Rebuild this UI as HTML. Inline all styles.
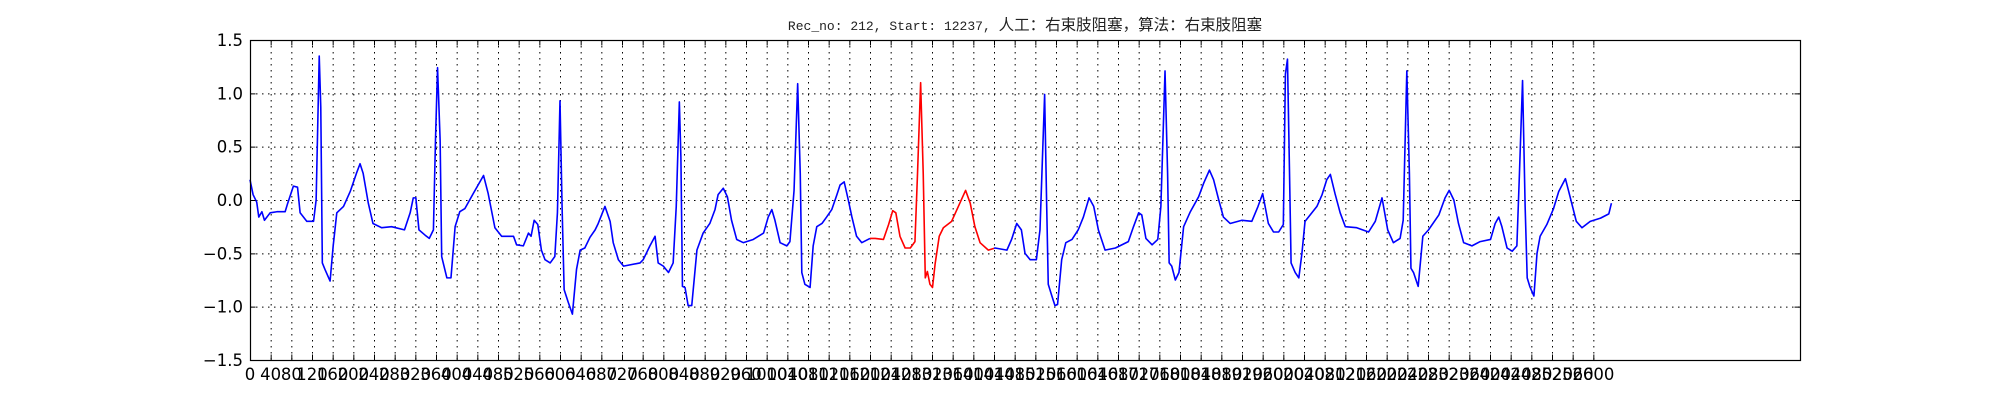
<!DOCTYPE html>
<html><head><meta charset="utf-8">
<style>
html,body{margin:0;padding:0;background:#fff;}
svg{display:block;}
</style></head>
<body>
<svg id="chart" width="2000" height="400" xmlns="http://www.w3.org/2000/svg">
  <rect x="0" y="0" width="2000" height="400" fill="#fff"/>
  <text x="1025" y="30" text-anchor="middle" fill="#222"><tspan font-family="Liberation Mono, monospace" font-size="13">Rec_no: 212, Start: 12237, </tspan><tspan font-family="Liberation Sans, WenQuanYi Zen Hei, Noto Sans CJK SC, sans-serif" font-size="15.5">人工：右束肢阻塞，算法：右束肢阻塞</tspan></text>
  <g id="grid"></g>
  <g id="series"></g>
  <g id="axes"></g>
</svg>
<script>
const samples = [0,6,13,17,23,28,39,52,68,73,84,92,97,110,123,128,134,137,140,145,155,161,168,181,194,206,213,219,229,238,255,274,299,310,316,321,327,339,347,355,359,363,368,371,381,389,397,406,416,432,452,461,474,487,510,516,529,539,544,550,557,564,571,581,590,595,600,604,608,616,624,632,639,648,658,668,674,687,697,703,713,723,755,761,774,784,790,800,810,819,825,831,834,837,842,848,855,865,877,890,900,906,916,924,932,942,955,974,994,1003,1010,1016,1026,1039,1045,1053,1060,1065,1068,1074,1084,1090,1097,1107,1116,1126,1136,1142,1150,1158,1165,1174,1184,1200,1210,1226,1236,1244,1250,1258,1268,1278,1287,1292,1298,1303,1307,1311,1316,1321,1326,1334,1342,1358,1371,1385,1394,1403,1413,1429,1442,1465,1474,1484,1493,1500,1510,1522,1529,1538,1542,1545,1552,1558,1563,1571,1579,1591,1603,1613,1624,1633,1642,1655,1675,1700,1710,1720,1726,1734,1746,1757,1763,1771,1776,1779,1784,1791,1798,1807,1820,1836,1846,1857,1865,1875,1884,1897,1920,1939,1951,1960,1971,1981,1991,2000,2004,2008,2012,2015,2023,2030,2036,2042,2052,2065,2075,2084,2091,2100,2110,2120,2142,2165,2178,2191,2202,2213,2226,2232,2239,2244,2247,2252,2261,2270,2281,2301,2313,2321,2330,2339,2349,2365,2381,2401,2410,2417,2423,2433,2443,2452,2457,2463,2468,2472,2477,2485,2491,2497,2510,2523,2533,2546,2555,2567,2578,2594,2614,2630,2635];
const values = [0.19,0.05,-0.02,-0.16,-0.11,-0.19,-0.12,-0.11,-0.11,-0.03,0.13,0.12,-0.12,-0.2,-0.2,0,1.35,0.87,-0.59,-0.65,-0.76,-0.43,-0.12,-0.06,0.08,0.25,0.34,0.25,-0.03,-0.22,-0.26,-0.25,-0.28,-0.12,0.02,0.02,-0.28,-0.33,-0.36,-0.28,0.56,1.24,0.56,-0.53,-0.73,-0.73,-0.25,-0.11,-0.08,0.06,0.23,0.06,-0.26,-0.34,-0.34,-0.42,-0.43,-0.31,-0.34,-0.19,-0.23,-0.47,-0.56,-0.59,-0.53,-0.12,0.93,-0.06,-0.84,-0.96,-1.07,-0.65,-0.47,-0.45,-0.35,-0.28,-0.22,-0.06,-0.2,-0.4,-0.56,-0.62,-0.59,-0.56,-0.43,-0.34,-0.59,-0.62,-0.68,-0.59,-0.06,0.92,0.4,-0.81,-0.82,-0.99,-0.99,-0.47,-0.31,-0.22,-0.09,0.05,0.11,0.03,-0.19,-0.37,-0.4,-0.37,-0.31,-0.16,-0.09,-0.19,-0.4,-0.43,-0.39,0.09,1.09,0.25,-0.68,-0.79,-0.82,-0.43,-0.25,-0.22,-0.16,-0.09,0.05,0.14,0.17,0,-0.16,-0.34,-0.4,-0.36,-0.36,-0.37,-0.23,-0.1,-0.12,-0.34,-0.45,-0.45,-0.39,0.25,1.1,0.25,-0.73,-0.67,-0.79,-0.82,-0.6,-0.34,-0.26,-0.2,-0.06,0.09,-0.03,-0.25,-0.4,-0.47,-0.45,-0.47,-0.37,-0.22,-0.28,-0.5,-0.56,-0.56,-0.28,0.99,-0.06,-0.79,-0.9,-0.99,-0.98,-0.56,-0.4,-0.37,-0.28,-0.16,0.02,-0.06,-0.28,-0.47,-0.45,-0.39,-0.25,-0.12,-0.14,-0.36,-0.42,-0.37,-0.06,1.21,0.25,-0.59,-0.62,-0.75,-0.68,-0.25,-0.11,0.03,0.16,0.28,0.19,0,-0.16,-0.22,-0.19,-0.2,-0.06,0.06,-0.22,-0.3,-0.3,-0.23,1.18,1.32,0.25,-0.59,-0.68,-0.73,-0.5,-0.2,-0.14,-0.06,0.05,0.19,0.24,0.06,-0.12,-0.25,-0.26,-0.3,-0.2,0.02,-0.28,-0.4,-0.36,-0.19,1.21,0.25,-0.64,-0.68,-0.81,-0.34,-0.28,-0.14,0.02,0.09,0,-0.22,-0.4,-0.43,-0.39,-0.37,-0.22,-0.16,-0.25,-0.45,-0.48,-0.43,0.25,1.12,-0.06,-0.73,-0.81,-0.9,-0.5,-0.34,-0.23,-0.08,0.08,0.2,0.03,-0.2,-0.26,-0.2,-0.17,-0.13,-0.03];
const highlightRange = [1200, 1440];
const xTicks = [];
for (let t = 0; t <= 2600; t += 40) xTicks.push(t);
const yTicks = [-1.5,-1.0,-0.5,0.0,0.5,1.0,1.5];
const yTickLabels = ["\u22121.5","\u22121.0","\u22120.5","0.0","0.5","1.0","1.5"];

const L=250,R=1800,T=40,B=360,XMAX=3000,YMIN=-1.5,YMAX=1.5;
const xs = s => L + s/XMAX*(R-L);
const ys = v => B - (v-YMIN)/(YMAX-YMIN)*(B-T);
const NS="http://www.w3.org/2000/svg";
function mk(tag, attrs, parent){const e=document.createElementNS(NS,tag);for(const k in attrs)e.setAttribute(k,attrs[k]);parent.appendChild(e);return e;}
const grid=document.getElementById('grid'), series=document.getElementById('series'), axes=document.getElementById('axes');

xTicks.forEach(t=>{
  const x=xs(t)+0.5;
  const g=mk('line',{x1:x,x2:x,y1:T,y2:B,stroke:'#000','stroke-width':1,'stroke-dasharray':'1.5,4.5'},grid);
  
  
  const tk=mk('path',{d:`M${x},${B}v-5.5M${x},${T}v5.5`,stroke:'#000','stroke-width':1},axes);
  
  
  const lb=mk('text',{x:xs(t),y:B+20,'text-anchor':'middle','font-family':'DejaVu Sans, Liberation Sans, sans-serif','font-size':16.5,fill:'#000'},axes);
  lb.textContent=String(t);
  
  
});
yTicks.forEach((v,i)=>{
  const y=ys(v)+0.5;
  if(v>YMIN && v<YMAX){
    const g=mk('line',{x1:L,x2:R,y1:y,y2:y,stroke:'#000','stroke-width':1,'stroke-dasharray':'1.5,4.5'},grid);
    
    
  }
  const tk=mk('path',{d:`M${L},${y}h5.5M${R},${y}h-5.5`,stroke:'#000','stroke-width':1},axes);
  
  
  const lb=mk('text',{x:L-7,y:ys(v)+6,'text-anchor':'end','font-family':'DejaVu Sans, Liberation Sans, sans-serif','font-size':16.5,fill:'#000'},axes);
  lb.textContent=yTickLabels[i];
  
  
});
const frame=mk('rect',{x:L+0.5,y:T+0.5,width:R-L,height:B-T,fill:'none',stroke:'#000','stroke-width':1.2},axes);



function interp(s){
  for(let i=1;i<samples.length;i++){
    if(samples[i]>=s){const a=samples[i-1],b=samples[i];const f=(s-a)/(b-a);return values[i-1]+f*(values[i]-values[i-1]);}
  }
  return values[values.length-1];
}
const [h0,h1]=highlightRange;
const blueA=[],redP=[],blueB=[];
samples.forEach((s,i)=>{
  const p=[s,values[i]];
  if(s<h0) blueA.push(p); else if(s<=h1) redP.push(p); else blueB.push(p);
});
blueA.push([h0,interp(h0)]); redP.unshift([h0,interp(h0)]);
redP.push([h1,interp(h1)]); blueB.unshift([h1,interp(h1)]);
const toPts = arr => arr.map(p=>xs(p[0]).toFixed(2)+','+ys(p[1]).toFixed(2)).join(' ');
const l1=mk('polyline',{points:toPts(blueA),fill:'none',stroke:'#0000ff','stroke-width':1.6,'stroke-linejoin':'round'},series);


const l2=mk('polyline',{points:toPts(redP),fill:'none',stroke:'#ff0000','stroke-width':1.6,'stroke-linejoin':'round'},series);


const l3=mk('polyline',{points:toPts(blueB),fill:'none',stroke:'#0000ff','stroke-width':1.6,'stroke-linejoin':'round'},series);


</script>
</body></html>
